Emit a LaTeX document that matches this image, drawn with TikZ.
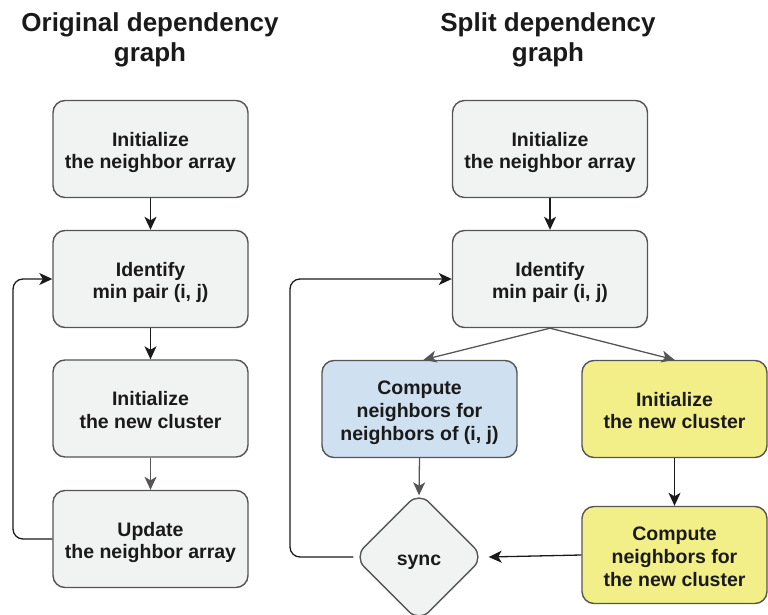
\documentclass[tikz,border=0pt]{standalone}
\usepackage{fontspec}
\setmainfont{Liberation Sans}
\usetikzlibrary{shapes.geometric,arrows.meta,calc}

\definecolor{boxgray}{HTML}{F1F2F2}
\definecolor{boxblue}{HTML}{CFE0F1}
\definecolor{boxyellow}{HTML}{F3EF88}
\definecolor{rim}{HTML}{555555}
\definecolor{ink}{HTML}{1A1A1A}

% centred block of lines, inked a little below the node centre
\newcommand{\boxlines}[1]{\raisebox{-4pt}[\height][\depth]{\begin{tabular}{@{}c@{}}#1\end{tabular}}}

\tikzset{
  stepbox/.style={draw=rim, line width=1.4pt, rounded corners=12pt,
    minimum width=195pt, minimum height=97pt, inner sep=0pt,
    font=\bfseries\fontsize{19.5}{22.8}\selectfont, text=ink},
  syncbox/.style={draw=rim, line width=1.4pt, rounded corners=14pt,
    diamond, minimum width=130pt, minimum height=130pt, inner sep=0pt,
    fill=boxgray, font=\bfseries\fontsize{19.5}{22.8}\selectfont, text=ink},
  heading/.style={align=center, font=\bfseries\fontsize{26}{30}\selectfont, text=ink},
  link/.style={line width=1.3pt, draw=ink, rounded corners=10pt,
    -{Stealth[length=13pt,width=12pt,inset=3.5pt]}},
  softlink/.style={link, draw=rim, -{Stealth[length=13pt,width=12pt,inset=3.5pt,fill=rim]}},
}

\begin{document}
\begin{tikzpicture}[x=1pt,y=-1pt]
\useasboundingbox (0,0) rectangle (768,615);

% headings
\node[heading] (h1) at (150,40) {Original dependency\\graph};
\node[heading] (h2) at (548,40) {Split dependency\\graph};

% original graph
\node[stepbox, fill=boxgray] (a1) at (150.5,149) {\boxlines{Initialize\\the neighbor array}};
\node[stepbox, fill=boxgray] (a2) at (150.5,279) {\boxlines{Identify\\min pair (i, j)}};
\node[stepbox, fill=boxgray] (a3) at (150.5,408.5) {\boxlines{Initialize\\the new cluster}};
\node[stepbox, fill=boxgray] (a4) at (150.5,539) {\boxlines{Update\\the neighbor array}};

\draw[link] (a1) -- (a2);
\draw[link] (a2) -- (a3);
\draw[softlink] (a3) -- (a4);
\draw[link] (a4.west) -- (13,539) -- (13,279) -- (a2.west);

% split graph
\node[stepbox, fill=boxgray] (b1) at (550,149) {\boxlines{Initialize\\the neighbor array}};
\node[stepbox, fill=boxgray] (b2) at (550,279) {\boxlines{Identify\\min pair (i, j)}};
\node[stepbox, fill=boxblue] (b3) at (419.5,409) {\boxlines{Compute\\neighbors for\\neighbors of (i, j)}};
\node[stepbox, fill=boxyellow, minimum width=185pt] (b4) at (674.5,409) {\boxlines{Initialize\\the new cluster}};
\node[stepbox, fill=boxyellow, minimum width=185pt] (b5) at (674.5,555) {\boxlines{Compute\\neighbors for\\the new cluster}};
\node[syncbox] (s) at (419,557) {\boxlines{sync}};

\draw[link] (b1) -- (b2);
\draw[softlink] (b2.south) -- ($(b3.north)+(4,0)$);
\draw[softlink] (b2.south) -- (b4.north);
\draw[softlink] (b3.south) -- ([yshift=-4pt]s.north);
\draw[link] (b4) -- (b5);
\draw[link] (b5.west) -- ([xshift=4pt]s.east);
\draw[link] (s.west) -- (290,557) -- (290,279) -- (b2.west);
\end{tikzpicture}
\end{document}
